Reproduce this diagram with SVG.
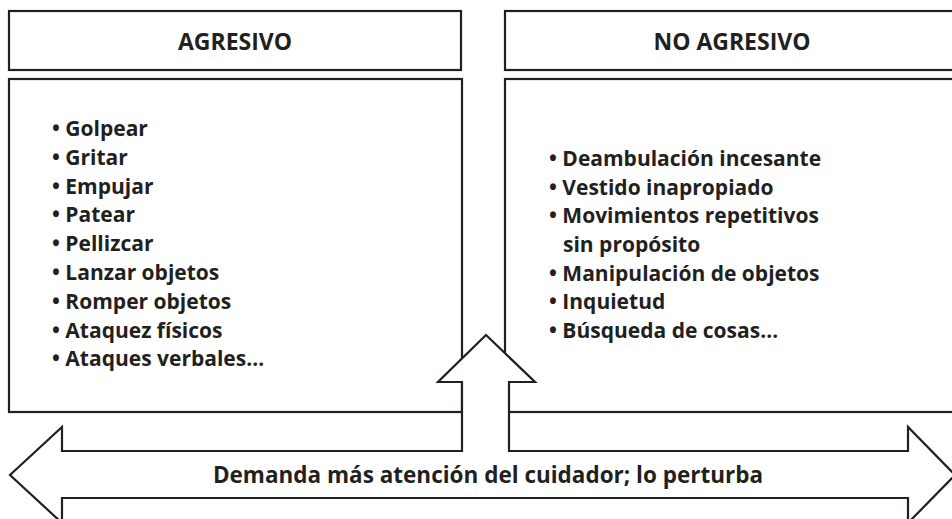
<svg xmlns="http://www.w3.org/2000/svg" width="952" height="519" viewBox="0 0 952 519">
  <style>
    .box { fill: #ffffff; stroke: #231f20; stroke-width: 2.2; }
    .head { font-family: "Open Sans", "Liberation Sans", sans-serif; font-weight: 700; font-size: 23px; fill: #231f20; text-anchor: middle; }
    .item { font-family: "Open Sans", "Liberation Sans", sans-serif; font-weight: 700; font-size: 21px; fill: #231f20; }
    .label { font-family: "Open Sans", "Liberation Sans", sans-serif; font-weight: 700; font-size: 22.5px; fill: #231f20; text-anchor: middle; }
  </style>
  <rect width="952" height="519" fill="#ffffff"/>

  <g id="header-agresivo">
    <rect class="box" x="9" y="11" width="452" height="59"/>
    <text class="head" x="235" y="50">AGRESIVO</text>
  </g>

  <g id="header-no-agresivo">
    <rect class="box" x="505" y="11" width="456" height="59"/>
    <text class="head" x="732" y="50">NO AGRESIVO</text>
  </g>

  <g id="list-agresivo">
    <rect class="box" x="9" y="79" width="453" height="333"/>
    <text class="item" x="52" y="136">• Golpear</text>
    <text class="item" x="52" y="164.8">• Gritar</text>
    <text class="item" x="52" y="193.6">• Empujar</text>
    <text class="item" x="52" y="222.4">• Patear</text>
    <text class="item" x="52" y="251.2">• Pellizcar</text>
    <text class="item" x="52" y="280">• Lanzar objetos</text>
    <text class="item" x="52" y="308.8">• Romper objetos</text>
    <text class="item" x="52" y="337.6">• Ataquez físicos</text>
    <text class="item" x="52" y="366.4">• Ataques verbales…</text>
  </g>

  <g id="list-no-agresivo">
    <rect class="box" x="505" y="79" width="456" height="333"/>
    <text class="item" x="549" y="166">• Deambulación incesante</text>
    <text class="item" x="549" y="194.7">• Vestido inapropiado</text>
    <text class="item" x="549" y="223.3">• Movimientos repetitivos</text>
    <text class="item" x="563" y="252">sin propósito</text>
    <text class="item" x="549" y="280.7">• Manipulación de objetos</text>
    <text class="item" x="549" y="309.3">• Inquietud</text>
    <text class="item" x="549" y="338">• Búsqueda de cosas…</text>
  </g>

  <g id="connectors">
    <path class="box" stroke-linejoin="miter" d="M10,475 L62,427 L62,451 L462,451 L462,382 L438,382 L486,335 L535,382 L509,382 L509,451 L908,451 L908,427 L955,475 L908,523 L908,498 L62,498 L62,523 Z"/>
    <text class="label" x="488" y="483">Demanda más atención del cuidador; lo perturba</text>
  </g>
</svg>
